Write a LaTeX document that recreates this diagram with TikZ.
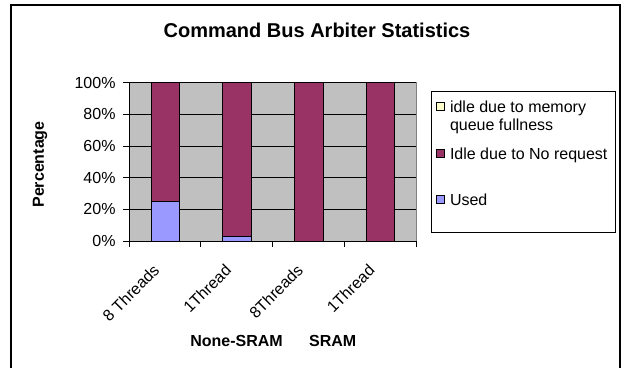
\documentclass[tikz,border=0pt]{standalone}
\usepackage{fontspec}
\setmainfont{Liberation Sans}
\definecolor{plotgray}{HTML}{C0C0C0}
\definecolor{framegray}{HTML}{808080}
\definecolor{idlered}{HTML}{993366}
\definecolor{usedblue}{HTML}{9999FF}
\definecolor{fullyellow}{HTML}{FFFFCC}
\tikzset{
  txt/.style={font=\fontsize{16}{19}\selectfont, inner sep=0pt, outer sep=0pt},
  boldtxt/.style={txt, font=\fontsize{16}{19}\selectfont\bfseries},
  gridline/.style={black, line width=0.7pt},
  barbox/.style={draw=black, line width=0.9pt},
  legmark/.style={draw=black, line width=0.7pt, minimum size=8pt, inner sep=0pt},
}
\begin{document}
\begin{tikzpicture}[x=1pt, y=-1pt]
\useasboundingbox (0,0) rectangle (621,367);
\fill[white] (0,0) rectangle (621,367);

% outer chart frame (open at the bottom edge)
\draw[black, line width=1.5pt] (11,368) -- (11,5) -- (620,5) -- (620,368);

% title
\node[txt, font=\fontsize{20}{24}\selectfont\bfseries, anchor=base] (title) at (317,37.3)
  {Command Bus Arbiter Statistics};

% plot area
\fill[plotgray] (129,82.7) rectangle (416,241);
\draw[framegray, line width=0.8pt] (129,82.7) -- (416,82.7) -- (416,241);
\foreach \k in {1,...,5}
  \draw[gridline] (129,{241-31.66*\k}) -- (416,{241-31.66*\k});

% bars: used share at the bottom, idle share above it
\foreach \c/\u in {0/25, 1/3, 2/0, 3/0} {
  \pgfmathsetmacro{\xm}{129+71.75*(\c+0.5)+0.4}
  \pgfmathsetmacro{\yu}{241-1.583*\u}
  \ifdim\u pt>0pt
    \filldraw[barbox, fill=usedblue] ({\xm-14.25},241) rectangle ({\xm+14.25},\yu);
  \fi
  \filldraw[barbox, fill=idlered] ({\xm-14.25},\yu) rectangle ({\xm+14.25},82.7);
}

% axes and ticks
\draw[black, line width=0.8pt] (129,82.7) -- (129,241) -- (416,241);
\foreach \k in {0,...,5}
  \draw[black, line width=0.8pt] (123,{241-31.66*\k}) -- (129,{241-31.66*\k});
\foreach \k in {0,...,4}
  \draw[black, line width=0.8pt] ({129+71.75*\k},241) -- ({129+71.75*\k},246.5);

% value axis labels
\foreach \k/\v in {0/0, 1/20, 2/40, 3/60, 4/80, 5/100}
  \node[txt, anchor=east] (ylab\k) at (115.5,{241-31.66*\k}) {\v\%};

% category labels
\foreach \c/\t in {0/8 Threads, 1/1Thread, 2/8Threads, 3/1Thread}
  \node[txt, anchor=east, rotate=45] (cat\c) at ({129+71.75*(\c+0.5)-8.5},267.5) {\t};

% axis titles
\node[boldtxt, rotate=90] (ytitle) at (40,164.5) {Percentage};
\node[boldtxt, anchor=base] (grpA) at (236.5,346) {None-SRAM};
\node[boldtxt, anchor=base] (grpB) at (332.7,346) {SRAM};

% legend
\draw[black, line width=0.9pt, fill=white] (431,91) rectangle (615.5,232.3);
\node[legmark, fill=fullyellow] (mkFull) at (440,106) {};
\node[txt, anchor=base west] (legFull1) at (450,112) {idle due to memory};
\node[txt, anchor=base west] (legFull2) at (450,130.5) {queue fullness};
\node[legmark, fill=idlered] (mkIdle) at (440,153.3) {};
\node[txt, anchor=base west] (legIdle) at (450,159) {Idle due to No request};
\node[legmark, fill=usedblue] (mkUsed) at (440,199.5) {};
\node[txt, anchor=base west] (legUsed) at (450,205) {Used};
\end{tikzpicture}
\end{document}
